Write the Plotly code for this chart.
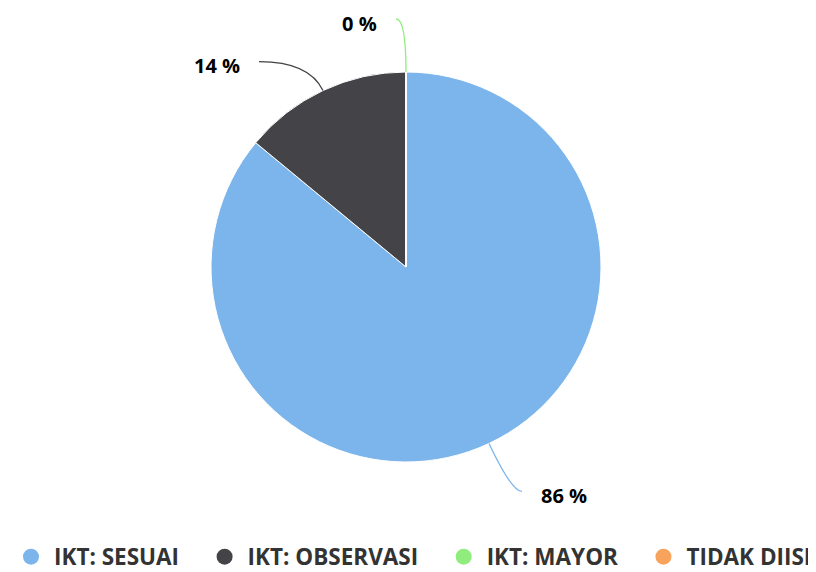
import math
import plotly.graph_objects as go

# ---- data ----
categories = ["IKT: SESUAI", "IKT: OBSERVASI", "IKT: MAYOR", "TIDAK DIISI"]
values = [86, 14, 0, None]          # None = no data (no label shown)
label_texts = ["86 %", "14 %", "0 %", None]

# ---- styles ----
colors = ["#7cb5ec", "#434348", "#90ed7d", "#f7a35c"]
W, H = 816, 572
OFF = 8                               # page body margin offset (px)
CX, CY, R = 406, 267, 195             # pie centre / radius in screen pixels
# label anchor offset (px) from slice edge point, and text anchor side
label_offsets = [(50, 52, "left"), (-81, -25, "right"), (-27, -49, "right"), None]
FONT = "Open Sans, Segoe UI, Arial, sans-serif"
PAD = "\u00a0" * 3                    # visual spacing after legend entries


def px2paper(x, y):
    return (x - OFF) / W, 1 - (y - OFF) / H


fig = go.Figure()

x0, y1 = px2paper(CX - R, CY - R)
x1, y0 = px2paper(CX + R, CY + R)
fig.add_trace(go.Pie(
    labels=categories,
    values=[v if v is not None else 0 for v in values],
    marker=dict(colors=colors, line=dict(color="#ffffff", width=1)),
    sort=False, direction="clockwise", rotation=0,
    textinfo="none", hoverinfo="label+percent",
    showlegend=False,
    domain=dict(x=[x0, x1], y=[y0, y1]),
))

# legend entries as circle markers
for i, (cat, col) in enumerate(zip(categories, colors)):
    fig.add_trace(go.Scatter(x=[None], y=[None], mode="markers",
                             name=cat + (PAD if i < len(categories) - 1 else ""),
                             marker=dict(size=16, color=col, symbol="circle"),
                             showlegend=True))

# data labels with connectors, computed from slice angles
total = sum(v for v in values if v is not None)
cum = 0.0
shapes, annotations = [], []
for i, v in enumerate(values):
    if v is None:
        continue
    frac = v / total
    mid = (cum + frac / 2) * 2 * math.pi
    cum += frac
    if label_texts[i] is None or label_offsets[i] is None:
        continue
    ux, uy = math.sin(mid), -math.cos(mid)
    ex, ey = CX + R * ux, CY + R * uy
    dx, dy, side = label_offsets[i]
    tx, ty = ex + dx, ey + dy
    sgn = 1 if side == "right" else -1
    endx, endy = tx + sgn * 17, ty - 4
    # control point: where the radial line from the edge meets the label's horizontal
    t = (endy - ey) / uy if abs(uy) > 1e-6 else 0
    cx_, cy_ = ex + t * ux, endy
    p0 = px2paper(ex, ey)
    p1 = px2paper(cx_, cy_)
    p2 = px2paper(endx, endy)
    shapes.append(dict(type="path", xref="paper", yref="paper",
                       path=f"M {p0[0]},{p0[1]} Q {p1[0]},{p1[1]} {p2[0]},{p2[1]}",
                       line=dict(color=colors[i], width=1.3)))
    ax, ay = px2paper(tx, ty)
    annotations.append(dict(x=ax, y=ay, xref="paper", yref="paper", text=label_texts[i],
                            showarrow=False, xanchor=side, yanchor="middle",
                            font=dict(family=FONT, size=20, color="#000000", weight="bold")))

lx, ly = px2paper(402, 557)
fig.update_layout(
    width=W, height=H,
    margin=dict(l=0, r=0, t=0, b=0),
    paper_bgcolor="#ffffff", plot_bgcolor="#ffffff",
    xaxis=dict(visible=False), yaxis=dict(visible=False),
    shapes=shapes, annotations=annotations,
    legend=dict(orientation="h", x=lx, xanchor="center", y=ly, yanchor="middle",
                font=dict(family=FONT, size=22.5, color="#333333", weight="bold"),
                itemwidth=36,
                itemclick=False, itemdoubleclick=False, tracegroupgap=0),
)

fig.write_html("out.html")
